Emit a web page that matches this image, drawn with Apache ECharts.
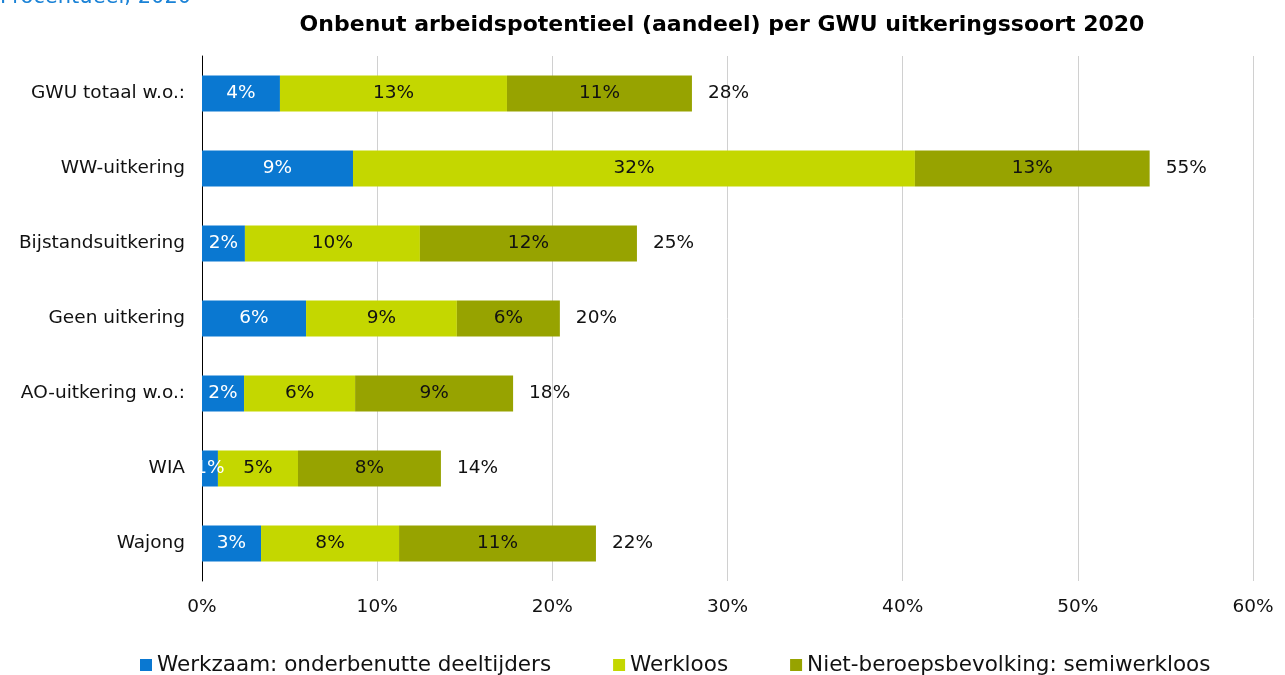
<!DOCTYPE html>
<html>
<head>
<meta charset="utf-8">
<script src="https://cdn.jsdelivr.net/npm/echarts@6/dist/echarts.min.js"></script>
<style>html,body{margin:0;padding:0;background:#fff;}#chart{width:1285px;height:675px;}</style>
</head>
<body>
<div id="chart"></div>
<script>
const categories = ['GWU totaal w.o.:', 'WW-uitkering', 'Bijstandsuitkering', 'Geen uitkering', 'AO-uitkering w.o.:', 'WIA', 'Wajong'];
const seriesNames = ['Werkzaam: onderbenutte deeltijders', 'Werkloos', 'Niet-beroepsbevolking: semiwerkloos'];
const werkzaam = [4.45, 8.62, 2.45, 5.94, 2.40, 0.91, 3.37];
const werkloos = [12.96, 32.08, 9.99, 8.61, 6.34, 4.57, 7.88];
const semiwerkloos = [10.56, 13.40, 12.39, 5.88, 9.02, 8.16, 11.24];
const totals = [28, 55, 25, 20, 18, 14, 22];
const xTicks = [0, 10, 20, 30, 40, 50, 60];

const FONT = 'DejaVu Sans';
const colors = ['#0a78d1', '#c4d700', '#97a300'];
const lists = [werkzaam, werkloos, semiwerkloos];

const chart = echarts.init(document.getElementById('chart'));
const series = lists.map((d, i) => ({
  name: seriesNames[i],
  type: 'bar',
  stack: 'tot',
  barWidth: 36,
  data: d,
  itemStyle: { color: colors[i] },
  label: {
    show: true,
    position: 'inside',
    fontFamily: FONT,
    fontSize: 18.5,
    color: i === 0 ? '#ffffff' : '#111111',
    formatter: p => Math.round(p.value) + '%'
  }
}));
series.push({
  name: 'Totaal',
  type: 'bar',
  stack: 'tot',
  barWidth: 36,
  data: totals.map(() => 0),
  itemStyle: { color: 'transparent' },
  label: {
    show: true,
    position: 'right',
    distance: 16,
    fontFamily: FONT,
    fontSize: 18.5,
    color: '#111111',
    formatter: p => totals[p.dataIndex] + '%'
  }
});

chart.setOption({
  animation: false,
  backgroundColor: '#ffffff',
  textStyle: { fontFamily: FONT },
  graphic: [
    { type: 'text', left: 0, top: -13, style: { text: 'Procentueel, 2020', fill: '#1a82d6', font: '21px "DejaVu Sans"' } },
    { type: 'text', x: 722, y: 25, style: { text: 'Onbenut arbeidspotentieel (aandeel) per GWU uitkeringssoort 2020', fill: '#000', font: 'bold 22px "DejaVu Sans"', textAlign: 'center', textVerticalAlign: 'middle' } }
  ],
  legend: {
    data: seriesNames,
    left: 135,
    bottom: -6,
    itemWidth: 12,
    itemHeight: 12,
    itemGap: 62,
    icon: 'rect',
    textStyle: { fontFamily: FONT, fontSize: 21.5, color: '#111' }
  },
  grid: { left: 202, right: 32, top: 56, bottom: 94, containLabel: false },
  xAxis: {
    type: 'value',
    min: 0, max: 60, interval: 10,
    axisLine: { show: false },
    axisTick: { show: false },
    splitLine: { lineStyle: { color: '#d0d0d0', width: 1 } },
    axisLabel: { fontFamily: FONT, fontSize: 18.5, color: '#111', margin: 17, formatter: v => v + '%' }
  },
  yAxis: {
    type: 'category',
    inverse: true,
    data: categories,
    axisLine: { show: true, lineStyle: { color: '#000', width: 1 } },
    axisTick: { show: false },
    axisLabel: { fontFamily: FONT, fontSize: 18.5, color: '#111', margin: 17 }
  },
  series: series
});
</script>
</body>
</html>
